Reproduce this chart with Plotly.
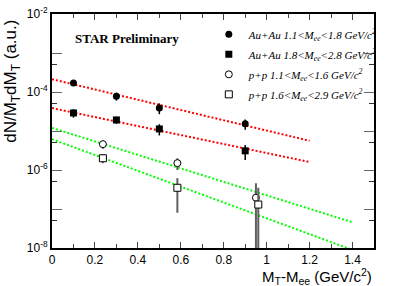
import plotly.graph_objects as go

# ---- data ----
aa_lo_x = [0.1, 0.3, 0.5, 0.9]
aa_lo_y = [1.7e-4, 7.8e-5, 3.9e-5, 1.53e-5]
aa_lo_err = [1.5e-5, 1.8e-5, 1.2e-5, 4.5e-6]

aa_hi_x = [0.1, 0.3, 0.5, 0.9]
aa_hi_y = [2.9e-5, 1.92e-5, 1.13e-5, 3.1e-6]
aa_hi_err = [7e-6, 4e-6, 3.6e-6, 1.3e-6]

pp_lo_x = [0.237, 0.584, 0.95]
pp_lo_y = [4.6e-6, 1.5e-6, 1.95e-7]
pp_lo_err = [1.1e-6, 5e-7, 2.65e-7]

pp_hi_x = [0.237, 0.584, 0.961]
pp_hi_y = [2.0e-6, 3.5e-7, 1.3e-7]
pp_hi_err = [5e-7, 2.7e-7, 2.2e-7]

fit_aa_lo_x = [0.0, 1.2]
fit_aa_lo_y = [2.13e-4, 5.6e-6]
fit_aa_hi_x = [0.0, 1.2]
fit_aa_hi_y = [3.87e-5, 1.6e-6]
fit_pp_lo_x = [0.0, 1.4]
fit_pp_lo_y = [1.2e-5, 4.56e-8]
fit_pp_hi_x = [0.0, 1.4]
fit_pp_hi_y = [6.17e-6, 8.9e-9]

names = [
    "<i>Au+Au 1.1&lt;M<sub>ee</sub>&lt;1.8 GeV/c<sup>2</sup></i>",
    "<i>Au+Au 1.8&lt;M<sub>ee</sub>&lt;2.8 GeV/c<sup>2</sup></i>",
    "<i>p+p 1.1&lt;M<sub>ee</sub>&lt;1.6 GeV/c<sup>2</sup></i>",
    "<i>p+p 1.6&lt;M<sub>ee</sub>&lt;2.9 GeV/c<sup>2</sup></i>",
]

x_tickvals = [0, 0.2, 0.4, 0.6, 0.8, 1.0, 1.2, 1.4]
x_ticktext = ["0", "0.2", "0.4", "0.6", "0.8", "1", "1.2", "1.4"]
x_minor = [0.1, 0.3, 0.5, 0.7, 0.9, 1.1, 1.3, 1.5]
y_tickvals = [1e-8, 1e-7, 1e-6, 1e-5, 1e-4, 1e-3, 1e-2]
y_ticktext = ["10<sup>-8</sup>", "", "10<sup>-6</sup>", "", "10<sup>-4</sup>", "", "10<sup>-2</sup>"]
y_minor = [5e-8, 5e-7, 5e-6, 5e-5, 5e-4]

RED = "#ff0000"
GREEN = "#00ff00"
fig = go.Figure()

for fx, fy, c in [(fit_aa_lo_x, fit_aa_lo_y, RED), (fit_aa_hi_x, fit_aa_hi_y, RED),
                  (fit_pp_lo_x, fit_pp_lo_y, GREEN), (fit_pp_hi_x, fit_pp_hi_y, GREEN)]:
    fig.add_trace(go.Scatter(x=fx, y=fy, mode="lines", showlegend=False,
                             line=dict(color=c, width=2, dash="2px,2px")))

fig.add_trace(go.Scatter(x=aa_lo_x, y=aa_lo_y, mode="markers", name=names[0], legendgroup="a",
                         marker=dict(symbol="circle", size=7, color="black"),
                         error_y=dict(type="data", array=aa_lo_err, color="black", thickness=1.5, width=0)))
fig.add_trace(go.Scatter(x=aa_hi_x, y=aa_hi_y, mode="markers", name=names[1], legendgroup="b",
                         marker=dict(symbol="square", size=7, color="black"),
                         error_y=dict(type="data", array=aa_hi_err, color="black", thickness=1.5, width=0)))
fig.add_trace(go.Scatter(x=pp_lo_x, y=pp_lo_y, mode="markers", name=names[2], legendgroup="c",
                         marker=dict(symbol="circle", size=7, color="white", line=dict(color="black", width=1)),
                         error_y=dict(type="data", array=pp_lo_err, color="#606060", thickness=2, width=0)))
fig.add_trace(go.Scatter(x=pp_hi_x, y=pp_hi_y, mode="markers", name=names[3], legendgroup="d",
                         marker=dict(symbol="square", size=7, color="white", line=dict(color="black", width=1)),
                         error_y=dict(type="data", array=pp_hi_err, color="#606060", thickness=2, width=0)))

fig.update_layout(
    width=399, height=286,
    margin=dict(l=52, r=25, t=5, b=38),
    paper_bgcolor="white", plot_bgcolor="white",
    font=dict(family="Liberation Sans, Arial", size=12, color="black"),
    showlegend=True,
    legend=dict(x=0.487, y=0.975, xanchor="left", yanchor="top", bgcolor="rgba(0,0,0,0)",
                font=dict(family="Liberation Serif", size=11, color="black"),
                tracegroupgap=1),
    xaxis=dict(range=[0, 1.5], showgrid=False, zeroline=False, showline=True, linewidth=2,
               linecolor="black", mirror="ticks", ticks="inside", ticklen=6, tickwidth=1,
               tickcolor="#444", tickvals=x_tickvals, ticktext=x_ticktext,
               minor=dict(tickmode="array", tickvals=x_minor, ticks="inside", ticklen=4, tickcolor="#444"),
               tickfont=dict(size=12), ticklabeloverflow="allow"),
    yaxis=dict(type="log", range=[-8, -2], showgrid=False, zeroline=False, showline=True, linewidth=2,
               linecolor="black", mirror="ticks", ticks="inside", ticklen=10, tickwidth=1,
               tickcolor="#666", tickvals=y_tickvals, ticktext=y_ticktext,
               minor=dict(tickmode="array", tickvals=y_minor, ticks="inside", ticklen=5, tickcolor="#333"),
               tickfont=dict(size=12), ticklabeloverflow="allow"),
    annotations=[
        dict(text="<b>STAR Preliminary</b>", xref="paper", yref="paper", x=0.065, y=0.895,
             xanchor="left", yanchor="middle", showarrow=False,
             font=dict(family="Liberation Serif", size=13, color="black")),
        dict(text="dN/M<sub>T</sub>dM<sub>T</sub> (a.u.)", xref="paper", yref="paper",
             x=-0.123, y=0.712, xanchor="center", yanchor="middle", textangle=-90, showarrow=False,
             font=dict(family="Liberation Sans, Arial", size=17, color="black")),
        dict(text="M<sub>T</sub>-M<sub>ee</sub> (GeV/c<sup>2</sup>)", xref="paper", yref="paper",
             x=1.0, y=-0.122, xanchor="right", yanchor="middle", showarrow=False,
             font=dict(family="Liberation Sans, Arial", size=15, color="black")),
    ],
)

fig.write_html("out.html", config={"displayModeBar": False},
               post_script="document.body.style.margin='0';document.body.style.overflow='hidden';")
